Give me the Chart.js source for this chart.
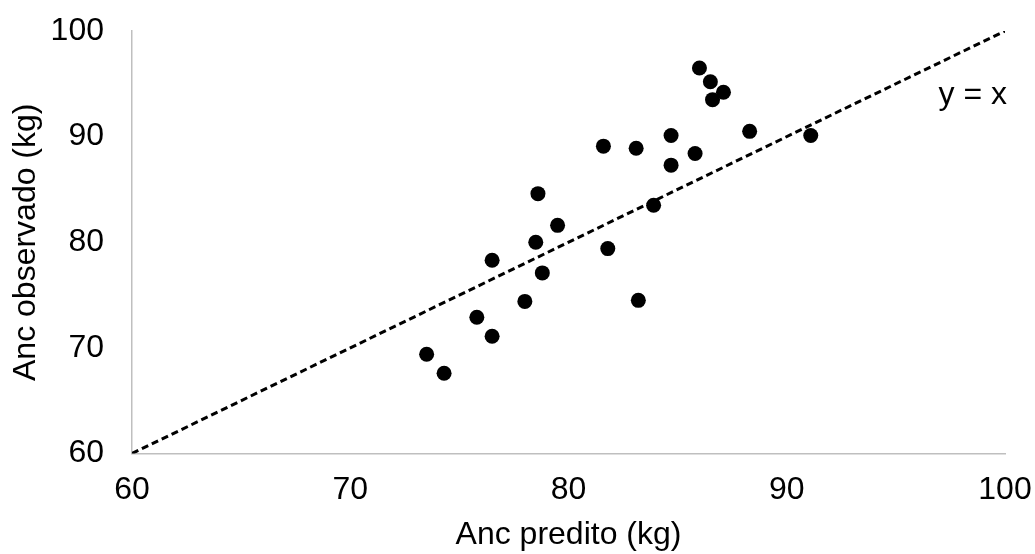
<!DOCTYPE html>
<html>
<head>
<meta charset="utf-8">
<title>Anc observado vs predito</title>
<script src="https://cdn.jsdelivr.net/npm/chart.js@4/dist/chart.umd.min.js"></script>
<style>
  html, body { margin: 0; padding: 0; background: #fff; }
  #wrap { width: 1035px; height: 554px; position: relative; }
</style>
</head>
<body>
<div id="wrap"><canvas id="chart"></canvas></div>
<script>
// predicted (x) and observed (y) values, kg
const predito = [73.5, 74.3, 75.8, 76.5, 76.5, 78.0, 78.5, 78.6, 78.8, 79.5, 81.6, 81.8,
  83.1, 83.2, 83.9, 84.7, 84.7, 85.8, 86.0, 86.5, 86.6, 87.1, 88.3, 91.1];
const observado = [69.4, 67.6, 72.9, 78.3, 71.1, 74.4, 80.0, 84.6, 77.1, 81.6, 89.1, 79.4,
  88.9, 74.5, 83.5, 90.1, 87.3, 88.4, 96.5, 95.2, 93.5, 94.2, 90.5, 90.1];

// 1:1 reference line
const identidadeX = [60, 100];
const identidadeY = [60, 100];
const identidadeLabel = 'y = x';
const identidadeLabelPos = { x: 100, y: 93.1 };

const axisTicks = [60, 70, 80, 90, 100];

const FONT = "'Liberation Sans', Arial, sans-serif";

const pontos = predito.map((x, i) => ({ x, y: observado[i] }));
const linha = identidadeX.map((x, i) => ({ x, y: identidadeY[i] }));

const lineLabel = {
  id: 'lineLabel',
  afterDatasetsDraw(chart) {
    const { ctx, scales } = chart;
    ctx.save();
    ctx.font = `32px ${FONT}`;
    ctx.fillStyle = '#000';
    ctx.textAlign = 'right';
    ctx.textBaseline = 'alphabetic';
    ctx.fillText(identidadeLabel,
      scales.x.getPixelForValue(identidadeLabelPos.x) + 2,
      scales.y.getPixelForValue(identidadeLabelPos.y));
    ctx.restore();
  },
};

const tickValues = (scale) => {
  scale.ticks = axisTicks.map(v => ({ value: v }));
};

new Chart(document.getElementById('chart'), {
  type: 'scatter',
  data: {
    datasets: [
      {
        label: 'Anc',
        data: pontos,
        backgroundColor: '#000',
        borderColor: '#000',
        borderWidth: 0,
        pointRadius: 7.5,
        pointHoverRadius: 7.5,
        order: 0,
      },
      {
        label: identidadeLabel,
        type: 'line',
        data: linha,
        borderColor: '#000',
        borderWidth: 3,
        borderDash: [7, 4],
        pointRadius: 0,
        fill: false,
        order: 1,
      },
    ],
  },
  options: {
    responsive: true,
    maintainAspectRatio: false,
    animation: false,
    layout: { padding: { top: 31, right: 30, left: 0, bottom: 0 } },
    plugins: {
      legend: { display: false },
      tooltip: { enabled: false },
    },
    scales: {
      x: {
        type: 'linear',
        min: 60,
        max: 100,
        afterBuildTicks: tickValues,
        // fixed box; tick label overhang is already covered by the layout padding
        afterFit: (scale) => {
          scale.height = 100.5;
          scale.paddingLeft = 0;
          scale.paddingRight = 0;
        },
        grid: { display: false, drawTicks: false },
        border: { display: true, color: '#bfbfbf', width: 1.5 },
        ticks: { color: '#000', padding: 17, font: { family: FONT, size: 32 } },
        title: {
          display: true,
          text: 'Anc predito (kg)',
          color: '#000',
          font: { family: FONT, size: 32, lineHeight: 1.15 },
          padding: { top: 0, bottom: 0 },
        },
      },
      y: {
        type: 'linear',
        min: 60,
        max: 100,
        afterBuildTicks: tickValues,
        afterFit: (scale) => {
          scale.width = 132;
          scale.paddingTop = 0;
          scale.paddingBottom = 0;
        },
        grid: { display: false, drawTicks: false },
        border: { display: true, color: '#bfbfbf', width: 1.5 },
        ticks: { color: '#000', padding: 28, font: { family: FONT, size: 32 } },
        title: {
          display: true,
          text: 'Anc observado (kg)',
          color: '#000',
          font: { family: FONT, size: 32 },
          padding: { top: 7, bottom: 0 },
        },
      },
    },
  },
  plugins: [lineLabel],
});
</script>
</body>
</html>
